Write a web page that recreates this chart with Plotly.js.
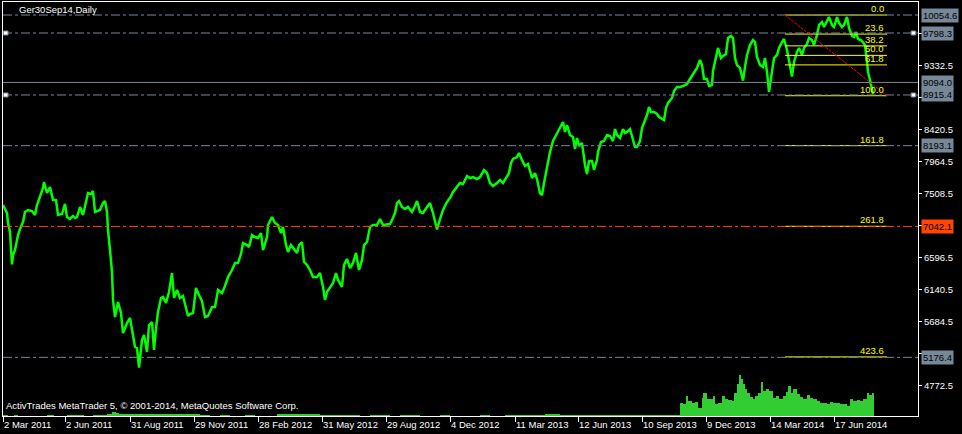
<!DOCTYPE html>
<html><head><meta charset="utf-8">
<script src="https://cdn.plot.ly/plotly-3.0.1.min.js"></script>
<style>html,body{margin:0;padding:0;background:#000;}#chart{width:962px;height:434px;}</style>
</head><body><div id="chart"></div>
<script>
const symbolTitle = "Ger30Sep14,Daily";
const footerText = "ActivTrades MetaTrader 5, \u00A9 2001-2014, MetaQuotes Software Corp.";

const tickBars = [3, 65, 130, 194, 258, 322, 386, 450, 515, 578, 642, 706, 770, 834];
const tickDates = ["2 Mar 2011","2 Jun 2011","31 Aug 2011","29 Nov 2011","28 Feb 2012","31 May 2012","29 Aug 2012","4 Dec 2012","11 Mar 2013","12 Jun 2013","10 Sep 2013","9 Dec 2013","14 Mar 2014","17 Jun 2014"];

const priceTicks = [4772.5, 5228.5, 5684.5, 6140.5, 6596.5, 7052.5, 7508.5, 7964.5, 8420.5, 8876.5, 9332.5, 9788.5];

const priceBars = [3,7,8,10,12,13,15,17,18,20,23,25,28,32,35,37,40,43,44,47,50,53,56,58,62,65,67,70,73,75,77,80,83,86,88,91,93,95,97,100,103,105,107,108,110,112,113,115,117,118,121,123,125,127,130,133,135,137,139,142,144,147,149,152,154,156,158,161,163,166,169,172,174,177,180,183,186,188,190,193,196,198,202,205,208,212,215,218,222,225,228,232,235,238,241,243,247,249,252,255,258,261,263,267,268,272,275,278,281,283,286,288,291,293,297,299,302,304,307,310,313,317,320,323,325,327,330,333,336,338,342,344,347,350,353,356,359,362,364,367,370,373,377,380,383,387,390,393,395,397,399,402,405,408,412,415,417,420,423,427,430,433,435,437,440,443,447,450,453,457,460,463,467,470,473,477,480,484,487,490,493,497,500,503,506,509,511,513,517,519,522,525,528,532,535,537,540,542,544,546,548,550,553,555,557,560,563,565,567,570,573,575,577,579,582,585,587,589,592,594,597,598,601,604,607,610,613,615,617,620,623,625,627,630,633,635,637,640,642,644,647,649,651,654,657,659,662,664,666,668,672,674,677,680,683,687,690,693,697,700,702,704,707,709,712,713,716,718,721,723,726,728,731,733,735,737,740,743,745,747,750,753,755,757,760,763,765,767,769,772,774,777,779,782,784,787,789,792,794,797,799,802,804,807,809,812,814,817,819,822,824,827,829,832,834,837,839,842,844,847,849,852,854,856,858,861,863,865,867,868,870,872,873];
const priceClose = [7347,7233,7091,6963,6500,6635,6706,6878,6920,7006,7105,7248,7276,7262,7205,7347,7476,7590,7675,7518,7604,7419,7419,7205,7219,7362,7176,7148,7191,7162,7176,7319,7205,7376,7518,7504,7547,7248,7262,7276,7376,7404,7248,6991,6706,6393,5994,5751,5894,5965,5808,5523,5595,5666,5738,5453,5324,5310,5030,5424,5495,5253,5637,5680,5281,5595,5823,6022,6036,5951,6108,6378,6022,6137,6022,6051,5851,5766,5794,5808,6165,6093,5979,5751,5766,5894,5894,6137,6093,6193,6321,6421,6521,6521,6649,6806,6777,6749,6920,6891,6878,6948,6706,6891,7062,7176,7091,7062,6948,7034,6777,6678,6777,6735,6664,6777,6820,6535,6493,6421,6321,6321,6378,6179,5994,6108,6179,6236,6378,6279,6179,6493,6578,6450,6521,6664,6421,6564,6777,6820,7034,7063,7063,7148,7063,7077,7077,7162,7233,7376,7404,7319,7290,7319,7248,7333,7404,7248,7233,7319,7376,7233,7134,7000,7148,7276,7390,7447,7533,7604,7661,7647,7761,7732,7746,7718,7746,7846,7803,7661,7618,7661,7704,7661,7732,7803,7946,8003,8031,8089,7989,7903,7932,7732,7803,7718,7518,7490,7661,7818,7946,8103,8259,8316,8359,8445,8530,8388,8487,8345,8316,8145,8302,8188,8231,7917,7790,7975,7975,7846,7989,8103,8245,8259,8345,8331,8259,8430,8345,8302,8430,8373,8388,8430,8259,8174,8174,8259,8445,8516,8630,8744,8673,8673,8644,8601,8573,8559,8730,8801,8872,8972,9029,9029,9043,9072,9143,9214,9300,9414,9342,9143,9143,9043,9057,9257,9485,9585,9442,9471,9499,9727,9756,9727,9442,9342,9300,9120,9314,9485,9627,9699,9670,9457,9342,9314,9442,9243,8960,9300,9442,9485,9585,9670,9713,9556,9414,9180,9385,9528,9585,9485,9585,9642,9727,9699,9627,9770,9912,9955,9884,9970,10026,9912,9884,10026,9941,9884,9912,10026,9870,9756,9741,9813,9713,9699,9670,9627,9385,9243,9129,9015,8930];

const volBars = [3,8,14,18,47,54,67,84,93,104,107,112,116,119,130,145,160,175,190,200,210,220,230,245,255,277,290,305,320,340,360,370,390,400,420,440,450,480,490,505,517,530,545,560,575,590,605,620,635,650,665,677,680,683,686,688,692,695,698,702,703,707,710,713,715,718,722,725,728,732,734,737,739,741,743,745,747,750,753,755,758,761,763,766,769,773,776,779,783,786,788,791,793,797,800,803,807,810,813,817,820,823,827,830,833,837,840,843,847,850,853,857,860,863,867,869,872,874];
const volTicks = [1,0,1,0,1,0,1,0,1,1,2,4,3,2,2,2,2,2,2,1,0,1,0,1,0,2,2,2,1,1,0,1,0,1,0,1,0,1,0,1,1,1,2,1,1,1,1,1,1,1,1,1,13,12,20,15,13,14,8,18,23,17,17,20,12,13,20,17,16,15,23,32,41,37,32,27,23,19,17,20,23,34,25,27,25,18,20,17,20,24,30,23,27,22,19,17,21,18,17,15,13,13,12,14,13,13,12,12,10,17,15,16,15,17,23,21,23,0];

const hLevels = [10054.6, 9798.3, 9094.0, 8915.4, 8193.1, 7042.1, 5176.4];
const selectedLevels = [9798.3, 8915.4];
const fiboAnchorBars = [785, 887];
const fiboAnchorPrices = [10054.6, 8904.5];
const fiboLevels = [0, 23.6, 38.2, 50, 61.8, 100, 161.8, 261.8, 423.6];

const GRAY = '#778899', RED = '#FF4500', YEL = '#FFFF00';
const FONT = 'Liberation Sans, Arial, sans-serif';
const FS = 9.5;
const PX_PER_UNIT = 414 / (10240.2 - 4340.7);

const hStyle = (lv) => {
  if (lv === 7042.1) return {color: RED, dash: 'dashdot', bg: RED};
  if (lv === 9094.0) return {color: GRAY, dash: 'solid', bg: GRAY};
  return {color: GRAY, dash: 'dashdot', bg: GRAY};
};

// tick labels that sit entirely behind a level label box are left blank (hidden in the reference too)
const priceTickText = priceTicks.map(t => hLevels.some(lv => Math.abs(lv - t) * PX_PER_UNIT < 4.5) ? '' : t.toFixed(1));

const fiboRange = fiboAnchorPrices[0] - fiboAnchorPrices[1];
const fiboPrices = fiboLevels.map(l => fiboAnchorPrices[0] - l / 100 * fiboRange);

const shapes = [];
fiboPrices.forEach(p => shapes.push({type:'line', xref:'x', yref:'y', x0:fiboAnchorBars[0], x1:fiboAnchorBars[1], y0:p, y1:p, line:{color:YEL, width:1}}));
hLevels.forEach(lv => { const s = hStyle(lv); shapes.push({type:'line', xref:'paper', yref:'y', x0:0, x1:1, y0:lv, y1:lv, line:{color:s.color, width:1, dash:s.dash}}); });
shapes.push({type:'line', xref:'x', yref:'y', x0:fiboAnchorBars[0], x1:fiboAnchorBars[1], y0:fiboAnchorPrices[0], y1:fiboAnchorPrices[1], line:{color:'#FF0000', width:1, dash:'3px,1px'}});
selectedLevels.forEach(lv => {
  [0.003, 0.995].forEach(px => shapes.push({type:'rect', xref:'paper', yref:'y', ysizemode:'pixel', yanchor:lv, y0:-2, y1:2, x0:px-0.0025, x1:px+0.0025, fillcolor:'#FFFFFF', line:{color:GRAY, width:1}}));
});

const annotations = [];
hLevels.forEach(lv => { const s = hStyle(lv); annotations.push({xref:'paper', yref:'y', x:1, y:lv, xanchor:'left', yanchor:'middle', xshift:3, text:lv.toFixed(1), showarrow:false, bgcolor:s.bg, borderpad:1, font:{family:FONT, size:FS, color:'#000000'}}); });
fiboLevels.forEach((l, i) => annotations.push({xref:'x', yref:'y', x:fiboAnchorBars[1] - 1, y:fiboPrices[i], xanchor:'right', yanchor:'bottom', yshift:-1, text:l.toFixed(1), showarrow:false, font:{family:FONT, size:FS, color:YEL}}));
annotations.push({xref:'paper', yref:'paper', x:0, y:1, xanchor:'left', yanchor:'top', xshift:14, yshift:0, text:symbolTitle, showarrow:false, font:{family:FONT, size:FS, color:'#FFFFFF'}});
annotations.push({xref:'paper', yref:'paper', x:0, y:0, xanchor:'left', yanchor:'middle', xshift:1, yshift:11, text:footerText, showarrow:false, font:{family:FONT, size:FS, color:'#FFFFFF'}});

const traces = [
  {type:'scatter', mode:'lines', x:volBars, y:volTicks, yaxis:'y2', line:{shape:'hv', width:0, color:'#32CD32'}, fill:'tozeroy', fillcolor:'#32CD32', hoverinfo:'skip'},
  {type:'scatter', mode:'lines', x:priceBars, y:priceClose, line:{color:'#00FF00', width:2.5}, hoverinfo:'skip'}
];

const layout = {
  width:962, height:434, paper_bgcolor:'#000000', plot_bgcolor:'#000000',
  margin:{l:3, r:44, t:2, b:18}, showlegend:false,
  font:{family:FONT, size:FS, color:'#FFFFFF'},
  xaxis:{range:[3,918], tickvals:tickBars, ticktext:tickDates, ticks:'outside', ticklen:5, tickcolor:'#FFFFFF',
    showline:true, mirror:true, linecolor:'#FFFFFF', linewidth:1, showgrid:false, zeroline:false,
    ticklabelposition:'outside right', tickfont:{family:FONT, size:FS, color:'#FFFFFF'}, fixedrange:true},
  yaxis:{side:'right', range:[4340.7,10240.2], tickvals:priceTicks, ticktext:priceTickText, ticks:'outside', ticklen:3,
    tickcolor:'#FFFFFF', showline:true, mirror:true, linecolor:'#FFFFFF', linewidth:1, showgrid:false, zeroline:false,
    tickfont:{family:FONT, size:FS, color:'#FFFFFF'}, fixedrange:true},
  yaxis2:{overlaying:'y', range:[0,414], visible:false, fixedrange:true},
  shapes:shapes, annotations:annotations
};

Plotly.newPlot('chart', traces, layout, {staticPlot:true, displayModeBar:false});
</script></body></html>
